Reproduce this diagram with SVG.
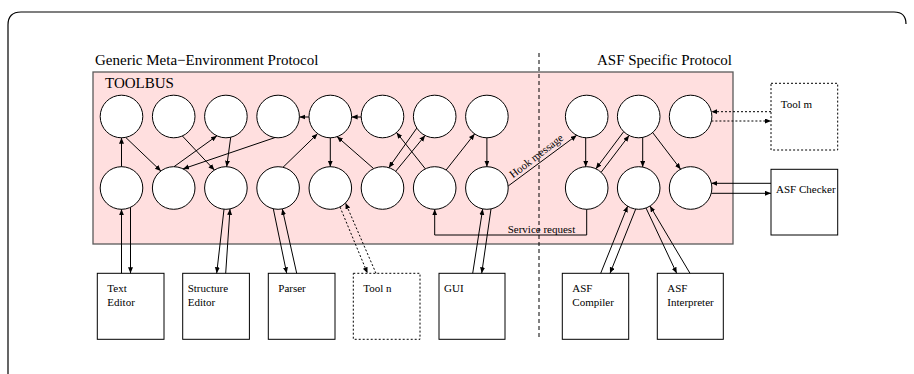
<svg xmlns="http://www.w3.org/2000/svg" width="914" height="374" viewBox="0 0 914 374">
<style>
text{font-family:"Liberation Serif","Times New Roman",serif;fill:#000}
.t15{font-size:15px}
.t11{font-size:11px}
.c{fill:#fff;stroke:#000;stroke-width:1}
.box{fill:#fff;stroke:#000;stroke-width:1}
.dbox{fill:#fff;stroke:#000;stroke-width:1;stroke-dasharray:2 2}
.e{fill:none;stroke:#000;stroke-width:1;marker-end:url(#ah)}
.d{fill:none;stroke:#000;stroke-width:1;stroke-dasharray:2 2;marker-end:url(#ah)}
</style>
<defs>
<marker id="ah" markerUnits="userSpaceOnUse" markerWidth="7" markerHeight="6" refX="6" refY="2.5" orient="auto">
<path d="M0,0 L6,2.5 L0,5 z" fill="#000"/>
</marker>
</defs>
<rect width="914" height="374" fill="#fff"/>
<path d="M8,374 V25 Q8,12 21,12 H894 Q906,12 906,24" fill="none" stroke="#000" stroke-width="1.2"/>

<g id="labels">
<text class="t15" x="95" y="65">Generic Meta−Environment Protocol</text>
<text class="t15" x="597" y="65">ASF Specific Protocol</text>
</g>

<g id="toolbus">
<rect x="93" y="72" width="640" height="172" fill="#ffdfdf" stroke="#5a5a5a" stroke-width="1.3"/>
<text class="t15" x="105" y="88">TOOLBUS</text>
</g>

<line id="divider" x1="539" y1="53" x2="539" y2="337" stroke="#000" stroke-width="1" stroke-dasharray="4 3"/>

<g id="processes">
<circle id="t1" class="c" cx="121.5" cy="116.5" r="21.3"/>
<circle id="t2" class="c" cx="173.7" cy="116.5" r="21.3"/>
<circle id="t3" class="c" cx="225.9" cy="116.5" r="21.3"/>
<circle id="t4" class="c" cx="278.1" cy="116.5" r="21.3"/>
<circle id="t5" class="c" cx="330.3" cy="116.5" r="21.3"/>
<circle id="t6" class="c" cx="382.5" cy="116.5" r="21.3"/>
<circle id="t7" class="c" cx="434.7" cy="116.5" r="21.3"/>
<circle id="t8" class="c" cx="486.9" cy="116.5" r="21.3"/>
<circle id="ta1" class="c" cx="586.7" cy="116.5" r="21.3"/>
<circle id="ta2" class="c" cx="638.7" cy="116.5" r="21.3"/>
<circle id="ta3" class="c" cx="690.6" cy="116.5" r="21.3"/>
<circle id="b1" class="c" cx="121.5" cy="188" r="21.3"/>
<circle id="b2" class="c" cx="173.7" cy="188" r="21.3"/>
<circle id="b3" class="c" cx="225.9" cy="188" r="21.3"/>
<circle id="b4" class="c" cx="278.1" cy="188" r="21.3"/>
<circle id="b5" class="c" cx="330.3" cy="188" r="21.3"/>
<circle id="b6" class="c" cx="382.5" cy="188" r="21.3"/>
<circle id="b7" class="c" cx="434.7" cy="188" r="21.3"/>
<circle id="b8" class="c" cx="486.9" cy="188" r="21.3"/>
<circle id="ba1" class="c" cx="586.7" cy="188" r="21.3"/>
<circle id="ba2" class="c" cx="638.7" cy="188" r="21.3"/>
<circle id="ba3" class="c" cx="690.6" cy="188" r="21.3"/>
</g>

<g id="text-editor">
<rect class="box" x="97.3" y="273.3" width="66.7" height="66"/>
<text class="t11" x="107.3" y="291.7">Text</text>
<text class="t11" x="107.3" y="305.7">Editor</text>
</g>
<g id="structure-editor">
<rect class="box" x="182.7" y="273.3" width="66.7" height="66"/>
<text class="t11" x="187.7" y="291.7">Structure</text>
<text class="t11" x="187.7" y="305.7">Editor</text>
</g>
<g id="parser">
<rect class="box" x="268.3" y="273.3" width="66.7" height="66"/>
<text class="t11" x="278.3" y="291.7">Parser</text>
</g>
<g id="tool-n">
<rect class="dbox" x="353.3" y="273.3" width="66.7" height="66"/>
<text class="t11" x="363.3" y="291.7">Tool n</text>
</g>
<g id="gui">
<rect class="box" x="439" y="273.3" width="66" height="66"/>
<text class="t11" x="444" y="291.7">GUI</text>
</g>
<g id="asf-compiler">
<rect class="box" x="562.3" y="273.3" width="66.4" height="66"/>
<text class="t11" x="572.3" y="291.7">ASF</text>
<text class="t11" x="572.3" y="305.7">Compiler</text>
</g>
<g id="asf-interpreter">
<rect class="box" x="657.3" y="273.3" width="66" height="66"/>
<text class="t11" x="667.3" y="291.7">ASF</text>
<text class="t11" x="667.3" y="305.7">Interpreter</text>
</g>
<g id="tool-m">
<rect class="dbox" x="771" y="83.3" width="66.7" height="66.7"/>
<text class="t11" x="780.7" y="107.5">Tool m</text>
</g>
<g id="asf-checker">
<rect class="box" x="771" y="169.3" width="66.7" height="65.7"/>
<text class="t11" x="776" y="193.3">ASF Checker</text>
</g>

<g id="connectors">
<line class="e" x1="121.5" y1="166.7" x2="121.5" y2="137.8"/>
<line class="e" x1="125.7" y1="137.4" x2="160.9" y2="171"/>
<line class="e" x1="182.4" y1="136" x2="214.4" y2="170.1"/>
<line class="e" x1="174" y1="166.7" x2="216.9" y2="135.8"/>
<line class="e" x1="230.7" y1="137.3" x2="226.7" y2="166.7"/>
<line class="e" x1="274.9" y1="137.6" x2="183" y2="168.9"/>
<line class="e" x1="309" y1="117" x2="299.4" y2="117"/>
<line class="e" x1="361.2" y1="117" x2="351.6" y2="117"/>
<line class="e" x1="283" y1="167.3" x2="317.5" y2="133.8"/>
<line class="e" x1="330.3" y1="137.8" x2="330.3" y2="166.7"/>
<line class="e" x1="373.3" y1="168.3" x2="337" y2="136.6"/>
<line class="e" x1="416.8" y1="128.1" x2="388.8" y2="167.7"/>
<line class="e" x1="395.7" y1="171.3" x2="425.1" y2="135.5"/>
<line class="e" x1="425.4" y1="168.9" x2="396.5" y2="132.5"/>
<line class="e" x1="446.1" y1="170" x2="474.6" y2="133.9"/>
<line class="e" x1="486.9" y1="137.8" x2="486.9" y2="166.7"/>
<line class="e" x1="508.2" y1="186" x2="576.7" y2="135.3"/>
<text class="t11" x="513" y="178.5" transform="rotate(-37.5 513 178.5)">Hook message</text>
<line class="e" x1="585.7" y1="137.8" x2="585.7" y2="166.7"/>
<line class="e" x1="623.7" y1="131.7" x2="595.9" y2="168.8"/>
<line class="e" x1="601.1" y1="172.3" x2="629.1" y2="135.5"/>
<line class="e" x1="642.7" y1="137.4" x2="642.7" y2="167.1"/>
<line class="e" x1="652.7" y1="132.6" x2="680.6" y2="169.2"/>
<line class="d" x1="771" y1="111.7" x2="711.4" y2="111.7"/>
<line class="d" x1="711.4" y1="121" x2="771" y2="121"/>
<line class="e" x1="771" y1="183.3" x2="711.4" y2="183.3"/>
<line class="e" x1="711.4" y1="193.3" x2="771" y2="193.3"/>
<polyline class="e" points="586.7,209.3 586.7,235 434.7,235 434.7,209.3"/>
<text class="t11" x="507.7" y="232.5">Service request</text>
<line class="e" x1="121.5" y1="273.3" x2="121.5" y2="209.3"/>
<line class="e" x1="130.5" y1="207.3" x2="130.5" y2="273.3"/>
<line class="e" x1="224" y1="209.2" x2="216.7" y2="273.3"/>
<line class="e" x1="225.7" y1="273.3" x2="230" y2="208.9"/>
<line class="e" x1="273.3" y1="208.8" x2="286.7" y2="273.3"/>
<line class="e" x1="296.7" y1="273.3" x2="282.3" y2="208.9"/>
<line class="d" x1="340" y1="207" x2="367.5" y2="273.3"/>
<line class="d" x1="376" y1="273.3" x2="345.5" y2="203"/>
<line class="e" x1="472.7" y1="273.3" x2="482.7" y2="208.9"/>
<line class="e" x1="491" y1="208.9" x2="481.7" y2="273.3"/>
<line class="e" x1="600.7" y1="273.3" x2="627.6" y2="206.2"/>
<line class="e" x1="635.7" y1="209.1" x2="610" y2="273.3"/>
<line class="e" x1="646" y1="208" x2="676.7" y2="273.3"/>
<line class="e" x1="690" y1="273.3" x2="650" y2="206"/>
</g>
</svg>
